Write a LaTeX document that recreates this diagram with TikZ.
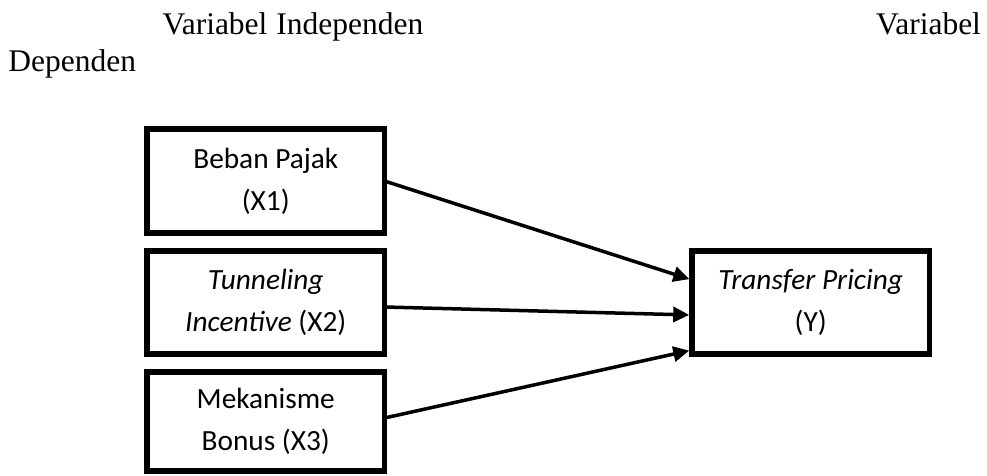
\documentclass[tikz,border=0pt]{standalone}
\usepackage{fontspec}
\setmainfont{Liberation Serif}
\newfontfamily\boxfont{Carlito}
\usetikzlibrary{arrows.meta}
\tikzset{
  varbox/.style={draw=black, line width=5.5pt, inner sep=0pt, outer sep=0pt,
    minimum width=237.5pt, align=center,
    font=\boxfont\fontsize{29.3}{42}\selectfont},
  headtxt/.style={inner sep=0pt, outer sep=0pt, anchor=base west,
    font=\fontsize{31.5}{35}\selectfont},
  link/.style={line width=3.5pt, -{Triangle[length=16pt,width=15pt]}, shorten >=2.75pt}
}
\begin{document}
\begin{tikzpicture}[x=1pt,y=-1pt]
\useasboundingbox (0,0) rectangle (987,476);
\node[headtxt] (h1) at (162.5,34.5) {Variabel\hspace{9pt}Independen};
\node[headtxt] (h2) at (876,34.5) {Variabel};
\node[headtxt] (h3) at (8.5,72) {Dependen};
\node[varbox, minimum height=104pt] (b1) at (265.75,181) {Beban Pajak\\(X1)};
\node[varbox, minimum height=103pt] (b2) at (265.75,302.5) {\textit{Tunneling}\\\textit{Incentive} (X2)};
\node[varbox, minimum height=99pt] (b3) at (265.75,421.5) {Mekanisme\\Bonus (X3)};
\node[varbox, minimum height=103pt] (y) at (810.75,302.5) {\textit{Transfer Pricing}\\(Y)};
\draw[link] (b1.east) -- ([yshift=22.5pt]y.west);
\draw[link] ([yshift=-4.5pt]b2.east) -- ([yshift=-12.5pt]y.west);
\draw[link] ([yshift=3.5pt]b3.east) -- ([yshift=-47.5pt]y.west);
\end{tikzpicture}
\end{document}
